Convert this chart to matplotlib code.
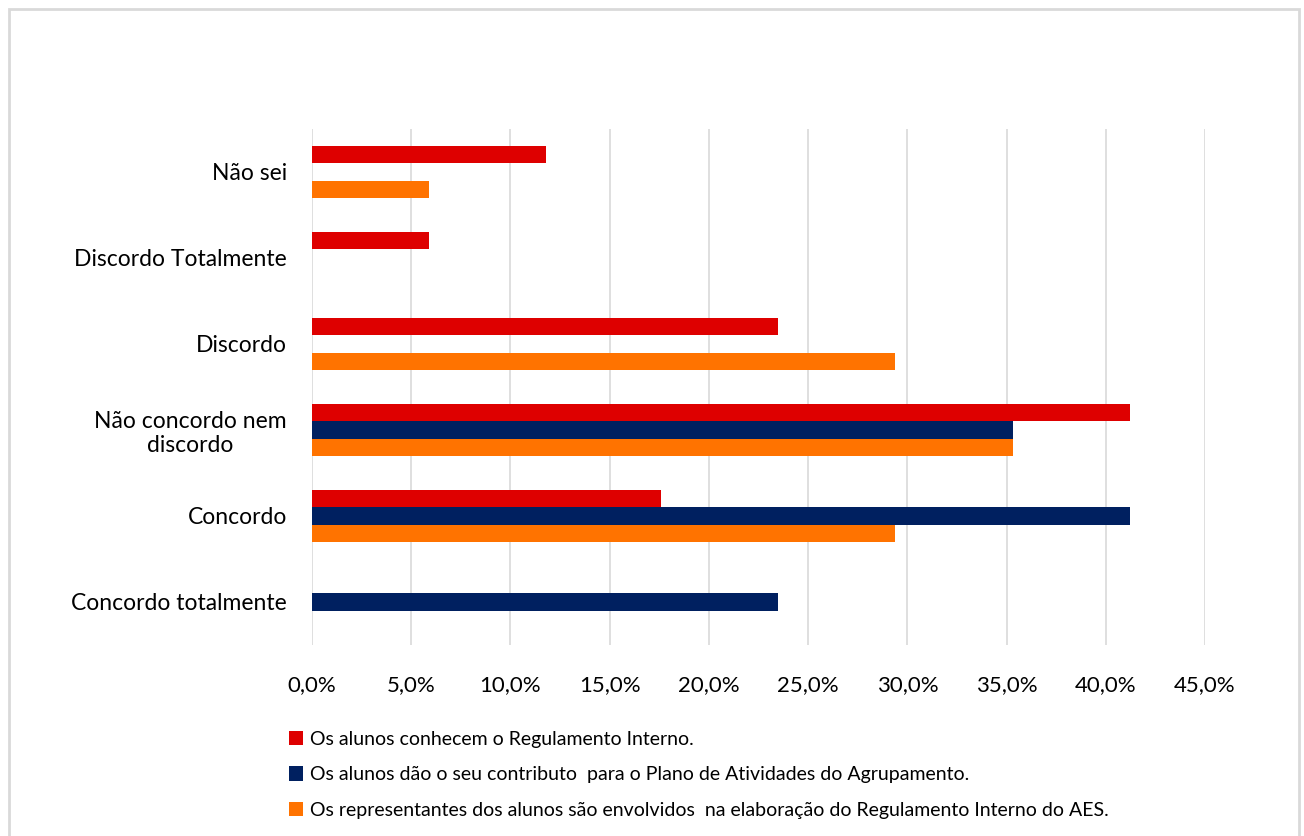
import matplotlib
matplotlib.use("Agg")
import matplotlib.pyplot as plt
import numpy as np
from matplotlib.patches import Rectangle
from matplotlib.ticker import FuncFormatter

plt.rcParams["font.family"] = ["Lato", "DejaVu Sans"]

# Categories from bottom to top (as drawn)
categories = ["Concordo totalmente", "Concordo", "Não concordo nem\ndiscordo",
              "Discordo", "Discordo Totalmente", "Não sei"]

series_labels = [
    "Os alunos conhecem o Regulamento Interno.",
    "Os alunos dão o seu contributo  para o Plano de Atividades do Agrupamento.",
    "Os representantes dos alunos são envolvidos  na elaboração do Regulamento Interno do AES.",
]
# percent values, same order as categories
conhecem = [0.0, 17.6, 41.2, 23.5, 5.9, 11.8]
contributo = [23.5, 41.2, 35.3, 0.0, 0.0, 0.0]
representantes = [0.0, 29.4, 35.3, 29.4, 0.0, 5.9]

colors = ["#DE0000", "#002060", "#FF7300"]

fig = plt.figure(figsize=(13.04, 8.36), dpi=100)
ax = fig.add_axes([312 / 1304, 1 - 645 / 836, (1205 - 312) / 1304, (645 - 129) / 836])

y = np.arange(len(categories))
h = 0.2
for vals, off, c, lab in zip([conhecem, contributo, representantes], [h, 0, -h], colors, series_labels):
    ax.barh(y + off, vals, height=h, color=c, label=lab, zorder=3)

ax.set_xlim(0, 45)
ax.set_ylim(-0.5, len(categories) - 0.5)
ax.set_xticks(np.arange(0, 46, 5))
ax.xaxis.set_major_formatter(FuncFormatter(lambda v, p: f"{v:.1f}%".replace(".", ",")))
ax.set_yticks(y)
ax.set_yticklabels(categories, fontsize=16.5, ha="right", multialignment="center")
ax.tick_params(axis="y", length=0, pad=18)
ax.tick_params(axis="x", length=0, pad=22, labelsize=16)
ax.grid(True, axis="x", color="#D9D9D9", linewidth=1.2, zorder=0)
for s in ax.spines.values():
    s.set_visible(False)

leg = fig.legend(loc="upper left", bbox_to_anchor=(281 / 1304, 1 - 723 / 836), ncol=1, frameon=False,
                 fontsize=14, handlelength=0.75, handleheight=0.75, handletextpad=0.35,
                 labelspacing=0.95, borderaxespad=0)

fig.patches.append(Rectangle((9 / 1304, -0.01), 1290 / 1304, 1 - 9 / 836 + 0.01, transform=fig.transFigure,
                             fill=False, edgecolor="#D9D9D9", linewidth=2))

fig.savefig("out.png", dpi=100)
